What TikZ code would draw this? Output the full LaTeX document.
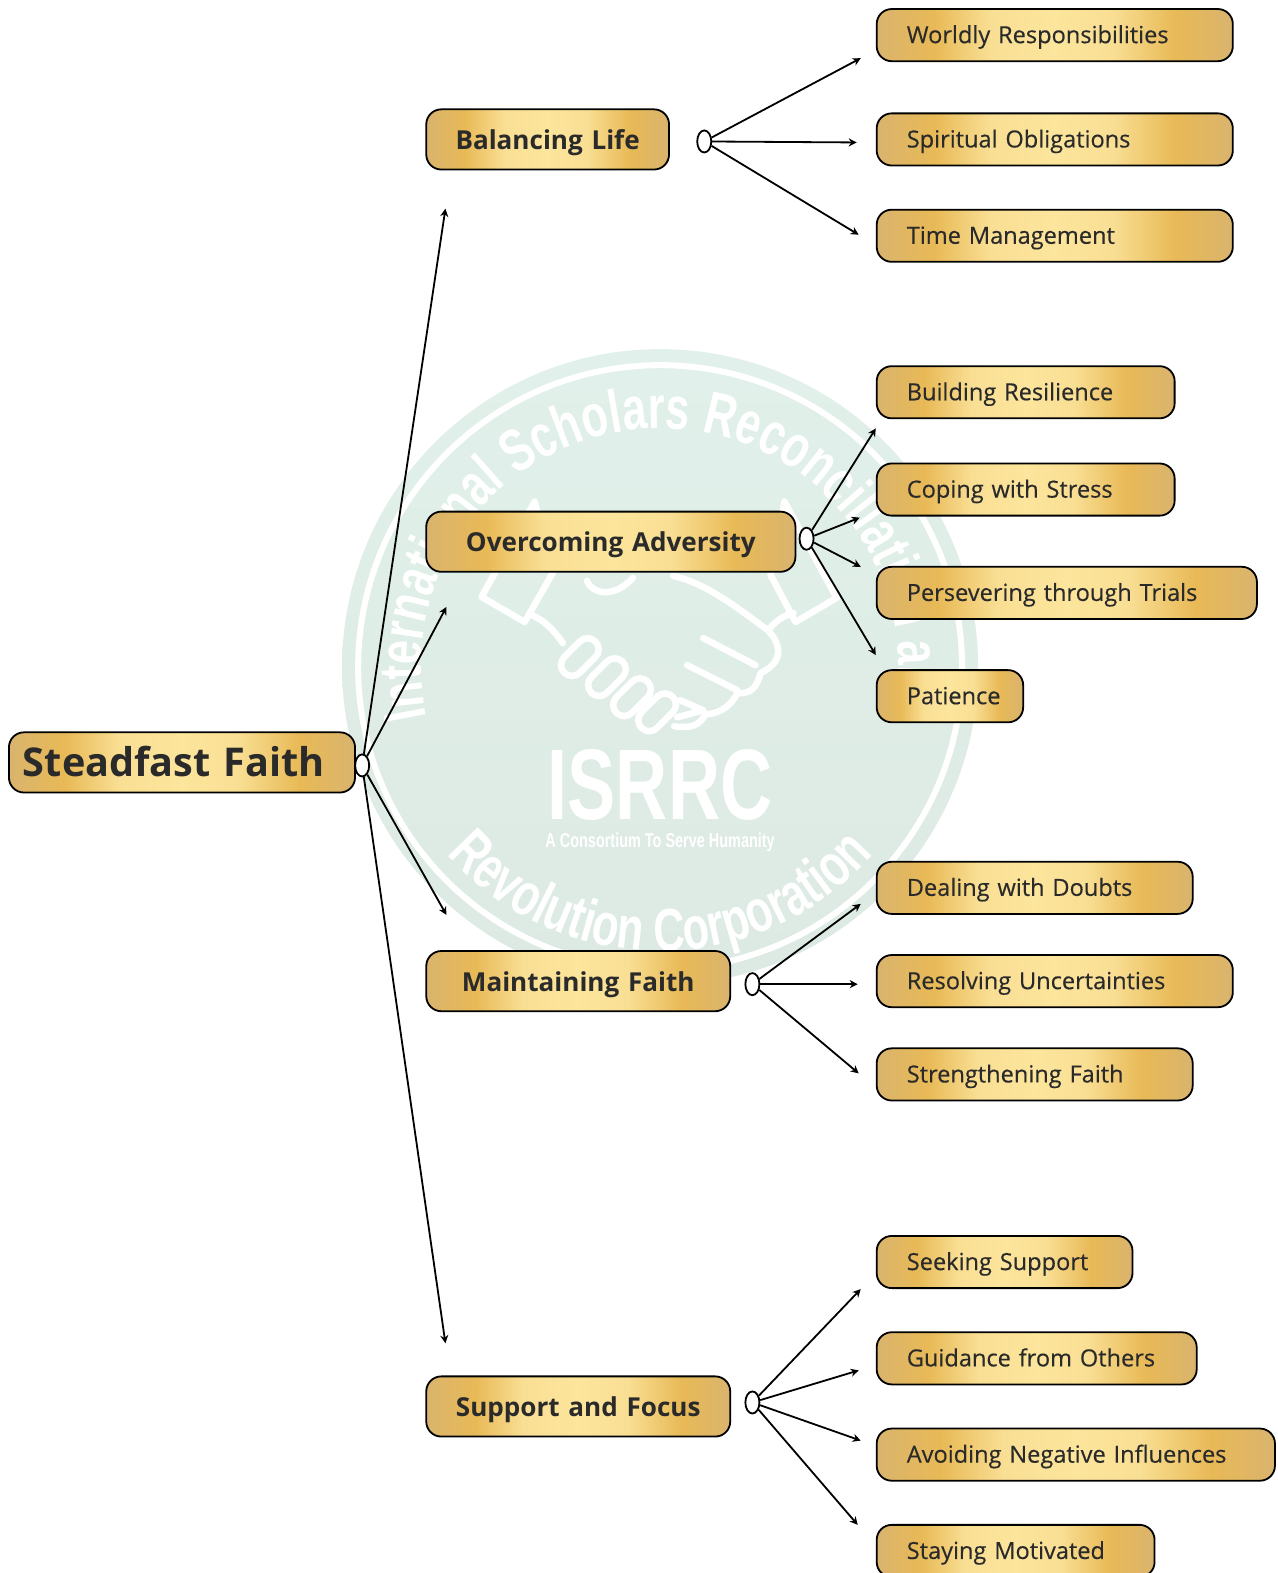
\documentclass[tikz,border=0pt]{standalone}
\usepackage{fontspec}
\setmainfont{Open Sans}
\newfontfamily\leaffont[FakeBold=0.35]{Open Sans}
\newfontfamily\wmfont[FakeStretch=0.72]{Liberation Sans}
\usetikzlibrary{arrows.meta,shapes.geometric,decorations.text}

\definecolor{wmtop}{HTML}{E1F0EA}
\definecolor{wmbottom}{HTML}{DDEAE3}
\definecolor{inkdark}{HTML}{2A2A2A}
\definecolor{goldedge}{HTML}{D9B46E}
\definecolor{goldmid}{HTML}{E8B956}
\definecolor{goldsoft}{HTML}{F9DF94}
\definecolor{goldlight}{HTML}{FCE59C}

\pgfdeclarehorizontalshading{goldbar}{100bp}{
	color(0bp)=(goldedge); color(25bp)=(goldedge); color(33bp)=(goldmid); color(41bp)=(goldsoft);
	color(50bp)=(goldlight); color(58bp)=(goldsoft); color(67bp)=(goldmid); color(75bp)=(goldedge); color(100bp)=(goldedge)}

\tikzset{
	goldbox/.style={draw=black, line width=1.8pt, shading=goldbar, rounded corners=15pt, text=inkdark, inner ysep=0pt},
	rootbox/.style={goldbox, anchor=west, inner xsep=14pt, text width=317pt, text height=28pt, text depth=0pt, minimum height=60pt, font=\bfseries\fontsize{39.5}{42}\selectfont},
	topicbox/.style={goldbox, anchor=west, inner xsep=10pt, text width=#1, text height=20pt, text depth=0pt, align=center, minimum height=60pt, font=\bfseries\fontsize{26}{32}\selectfont},
	leafbox/.style={goldbox, anchor=west, inner xsep=30pt, text width=#1, text height=16pt, text depth=0pt, minimum height=52pt, font=\leaffont\fontsize{23.5}{28}\selectfont},
	hub/.style={ellipse, draw=black, line width=1.8pt, fill=white, minimum width=14pt, minimum height=22pt, inner sep=0pt},
	link/.style={draw=black, line width=1.8pt, -{Stealth[length=8pt,width=8pt]}},
	wmline/.style={draw=white, line width=6.5pt, line cap=round, line join=round}
}

\begin{document}
\begin{tikzpicture}[x=1pt,y=1pt]

	\path[fill=white, use as bounding box] (0,0) rectangle (1273,-1568);

	% Watermark
	\shade[top color=wmtop, bottom color=wmbottom] (658,-665) circle (317pt);
	\draw[white, line width=6pt] (658,-665) circle (301pt);
	\path[decorate, decoration={text along path, text align=center,
		text={|\color{white}\fontsize{60}{66}\selectfont\wmfont\bfseries|International Scholars Reconciliation and}}]
		(658,-665) ++(194:238pt) arc[start angle=194, end angle=-14, radius=238pt];
	\path[decorate, decoration={text along path, text align=center,
		text={|\color{white}\fontsize{60}{66}\selectfont\wmfont\bfseries|Revolution Corporation}}]
		(658,-665) ++(216:283pt) arc[start angle=216, end angle=324, radius=283pt];

	% Handshake
	\draw[wmline] (551,-571) -- (533,-500) -- (480,-595) -- (523,-620) -- (551,-571);
	\draw[wmline] (768,-573) -- (782,-500) -- (834,-596) -- (793,-620) -- (768,-573);
	\draw[wmline] (530,-613) .. controls (542,-618) and (552,-628) .. (561,-641);
	\draw[wmline] (791,-611) .. controls (780,-614) and (772,-620) .. (766,-628);
	\draw[wmline] (585,-579) .. controls (590,-592) and (612,-597) .. (631,-576);
	\draw[wmline] (671,-574) .. controls (695,-580) and (715,-590) .. (765,-628) .. controls (782,-645) and (778,-662) .. (758,-671) .. controls (755,-685) and (748,-692) .. (735,-691) .. controls (728,-705) and (715,-712) .. (703,-712) .. controls (697,-724) and (688,-726) .. (672,-724);
	\draw[wmline] (701,-636) -- (753,-663);
	\draw[wmline] (685,-663) -- (735,-688);
	\draw[wmline] (678,-698) -- (701,-708) -- (675,-715);
	\foreach \fx/\fy in {578/-655, 605/-675, 630/-695, 655/-710} {
		\draw[white, line width=6.5pt, rounded corners=11pt, rotate around={45:(\fx,\fy)}] (\fx-22,\fy-11) rectangle (\fx+22,\fy+11);
	}

	% Logo text
	\node[text=white, font=\wmfont\bfseries\fontsize{100}{110}\selectfont] (wmname) at (658,-782) {ISRRC};
	\node[text=white, font=\wmfont\bfseries\fontsize{20}{24}\selectfont] (wmtag) at (658,-840) {A Consortium To Serve Humanity};

	% Boxes
	\node[rootbox] (faith) at (8,-760) {Steadfast Faith};

	\node[topicbox=222pt] (balancing) at (424,-139) {Balancing Life};
	\node[topicbox=348pt] (adversity) at (424,-540) {Overcoming Adversity};
	\node[topicbox=283pt] (maintaining) at (424,-978) {Maintaining Faith};
	\node[topicbox=283pt] (support) at (424,-1402) {Support and Focus};

	\node[leafbox=295pt] (worldly) at (873,-35) {Worldly Responsibilities};
	\node[leafbox=295pt] (spiritual) at (873,-139) {Spiritual Obligations};
	\node[leafbox=295pt] (time) at (873,-235) {Time Management};

	\node[leafbox=237pt] (resilience) at (873,-391) {Building Resilience};
	\node[leafbox=237pt] (coping) at (873,-488) {Coping with Stress};
	\node[leafbox=319pt] (trials) at (873,-591) {Persevering through Trials};
	\node[leafbox=86pt] (patience) at (873,-694) {Patience};

	\node[leafbox=255pt] (doubts) at (873,-885) {Dealing with Doubts};
	\node[leafbox=295pt] (uncertain) at (873,-978) {Resolving Uncertainties};
	\node[leafbox=255pt] (strength) at (873,-1071) {Strengthening Faith};

	\node[leafbox=195pt] (seeking) at (873,-1258) {Seeking Support};
	\node[leafbox=259pt] (guidance) at (873,-1354) {Guidance from Others};
	\node[leafbox=337pt] (avoiding) at (873,-1450) {Avoiding Negative Influences};
	\node[leafbox=217pt] (staying) at (873,-1546) {Staying Motivated};

	% Hubs
	\node[hub] (hubfaith) at (361,-763) {};
	\node[hub] (hubbalancing) at (702,-141) {};
	\node[hub] (hubadversity) at (804,-537) {};
	\node[hub] (hubmaintaining) at (750,-981) {};
	\node[hub] (hubsupport) at (750,-1398) {};

	% Arrow ends
	\coordinate (inbalancing) at (444,-208);
	\coordinate (inadversity) at (445,-605);
	\coordinate (inmaintaining) at (445,-912);
	\coordinate (insupport) at (444,-1339);
	\coordinate (inworldly) at (858,-58);
	\coordinate (inspiritual) at (854,-142);
	\coordinate (intime) at (856,-234);
	\coordinate (inresilience) at (873,-427);
	\coordinate (incoping) at (857,-516);
	\coordinate (intrials) at (858,-565);
	\coordinate (inpatience) at (873,-653);
	\coordinate (indoubts) at (858,-901);
	\coordinate (inuncertain) at (855,-981);
	\coordinate (instrength) at (856,-1070);
	\coordinate (inseeking) at (858,-1285);
	\coordinate (inguidance) at (856,-1366);
	\coordinate (inavoiding) at (858,-1436);
	\coordinate (instaying) at (855,-1520);

	% Connectors
	\foreach \to in {inbalancing, inadversity, inmaintaining, insupport}
		\draw[link] (hubfaith) -- (\to);
	\foreach \to in {inworldly, inspiritual, intime}
		\draw[link] (hubbalancing) -- (\to);
	\foreach \to in {inresilience, incoping, intrials, inpatience}
		\draw[link] (hubadversity) -- (\to);
	\foreach \to in {indoubts, inuncertain, instrength}
		\draw[link] (hubmaintaining) -- (\to);
	\foreach \to in {inseeking, inguidance, inavoiding, instaying}
		\draw[link] (hubsupport) -- (\to);

\end{tikzpicture}
\end{document}
